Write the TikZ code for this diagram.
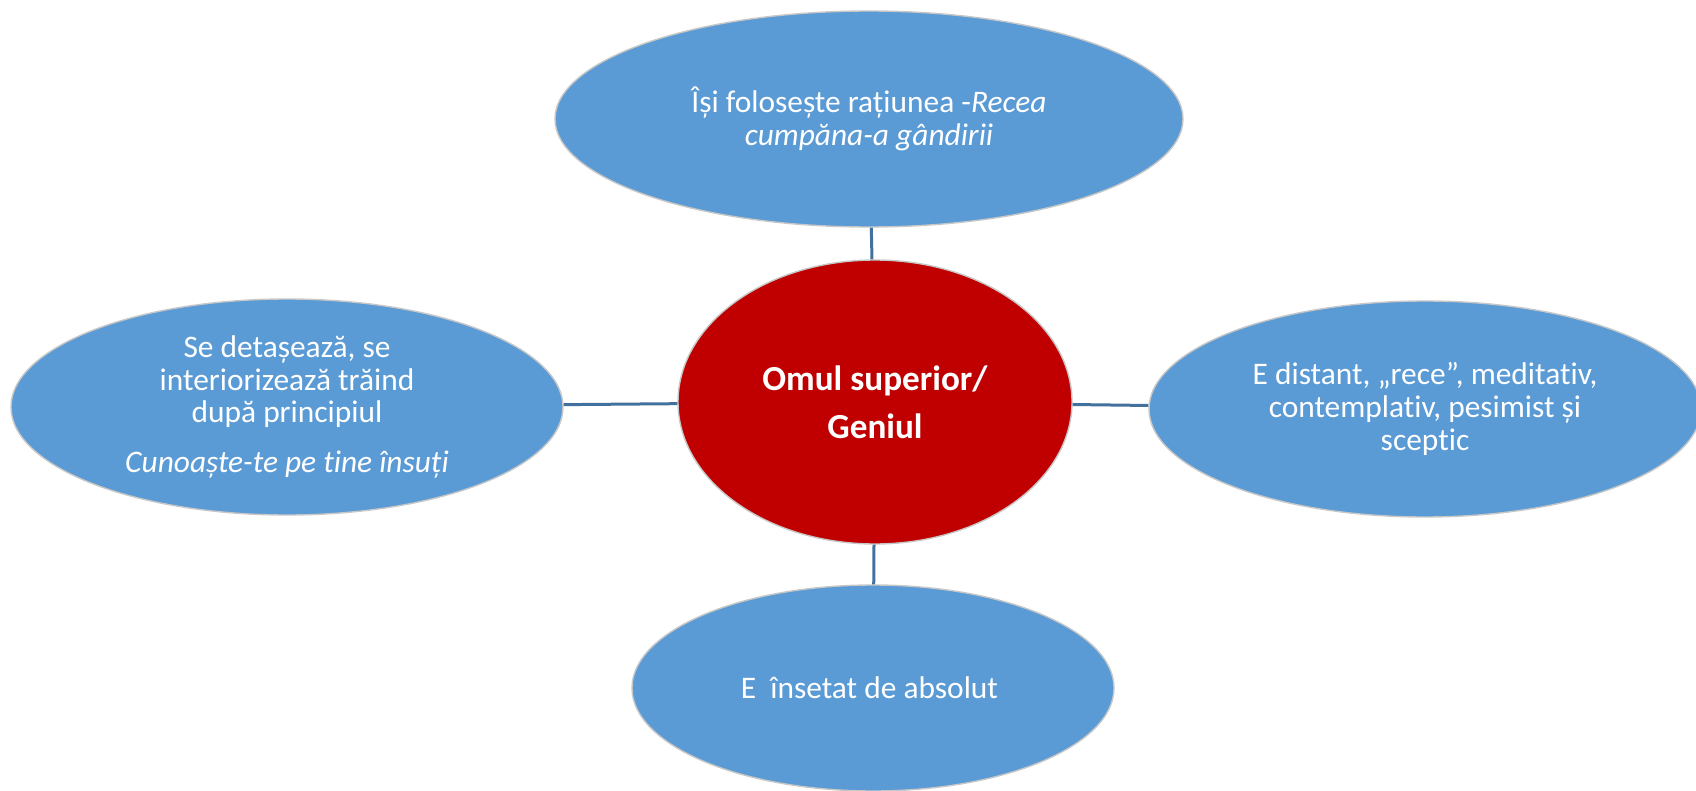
\documentclass[tikz,border=0pt]{standalone}
\usepackage{fontspec}
\setmainfont{Carlito}[Ligatures=NoCommon]
\usepackage{xcolor}
\usetikzlibrary{positioning,shapes.geometric}
\definecolor{cblue}{RGB}{91,155,213}
\definecolor{cred}{RGB}{192,0,0}
\definecolor{cline}{RGB}{65,113,156}

\begin{document}
\begin{tikzpicture}[x=0.5pt, y=-0.5pt,
      idea/.style={ellipse, draw=black!22, line width=0.7pt, fill=cblue, text=white, inner sep=0pt,
                   align=center, font=\fontsize{15.7}{16.3}\selectfont},
      core/.style={ellipse, draw=black!22, line width=0.7pt, fill=cred, text=white, inner sep=0pt,
                   align=center, font=\fontsize{17.6}{24}\selectfont\bfseries},
      link/.style={line width=1.5pt, cline}
    ]
    \useasboundingbox (0,0) rectangle (1696,791);
    \node[core, minimum width=197pt, minimum height=142pt] (genius) at (875,402) {
      Omul superior/\\ Geniul
    };
    \node[idea, minimum width=314pt, minimum height=108pt] (reason) at (869,119) {
      Își folosește rațiunea -\textit{Recea}\\ \textit{cumpăna-a gândirii}
    };
    \node[idea, minimum width=276pt, minimum height=108pt] (self) at (287,407) {
      Se detașează, se\\ interiorizează trăind\\ după principiul\\[8.5pt]
      \textit{Cunoaște-te pe tine însuți}
    };
    \node[idea, minimum width=276pt, minimum height=108pt] (cold) at (1425,409) {
      E distant, „rece”, meditativ,\\ contemplativ, pesimist și\\ sceptic
    };
    \node[idea, minimum width=241pt, minimum height=103pt] (absolute) at (873,688) {
      E\ \ însetat de absolut
    };
    \draw[link] (reason) -- (genius);
    \draw[link] (self) -- (genius);
    \draw[link] (genius) -- (cold);
    \draw[link] (genius) -- (absolute);
  \end{tikzpicture}
\end{document}
